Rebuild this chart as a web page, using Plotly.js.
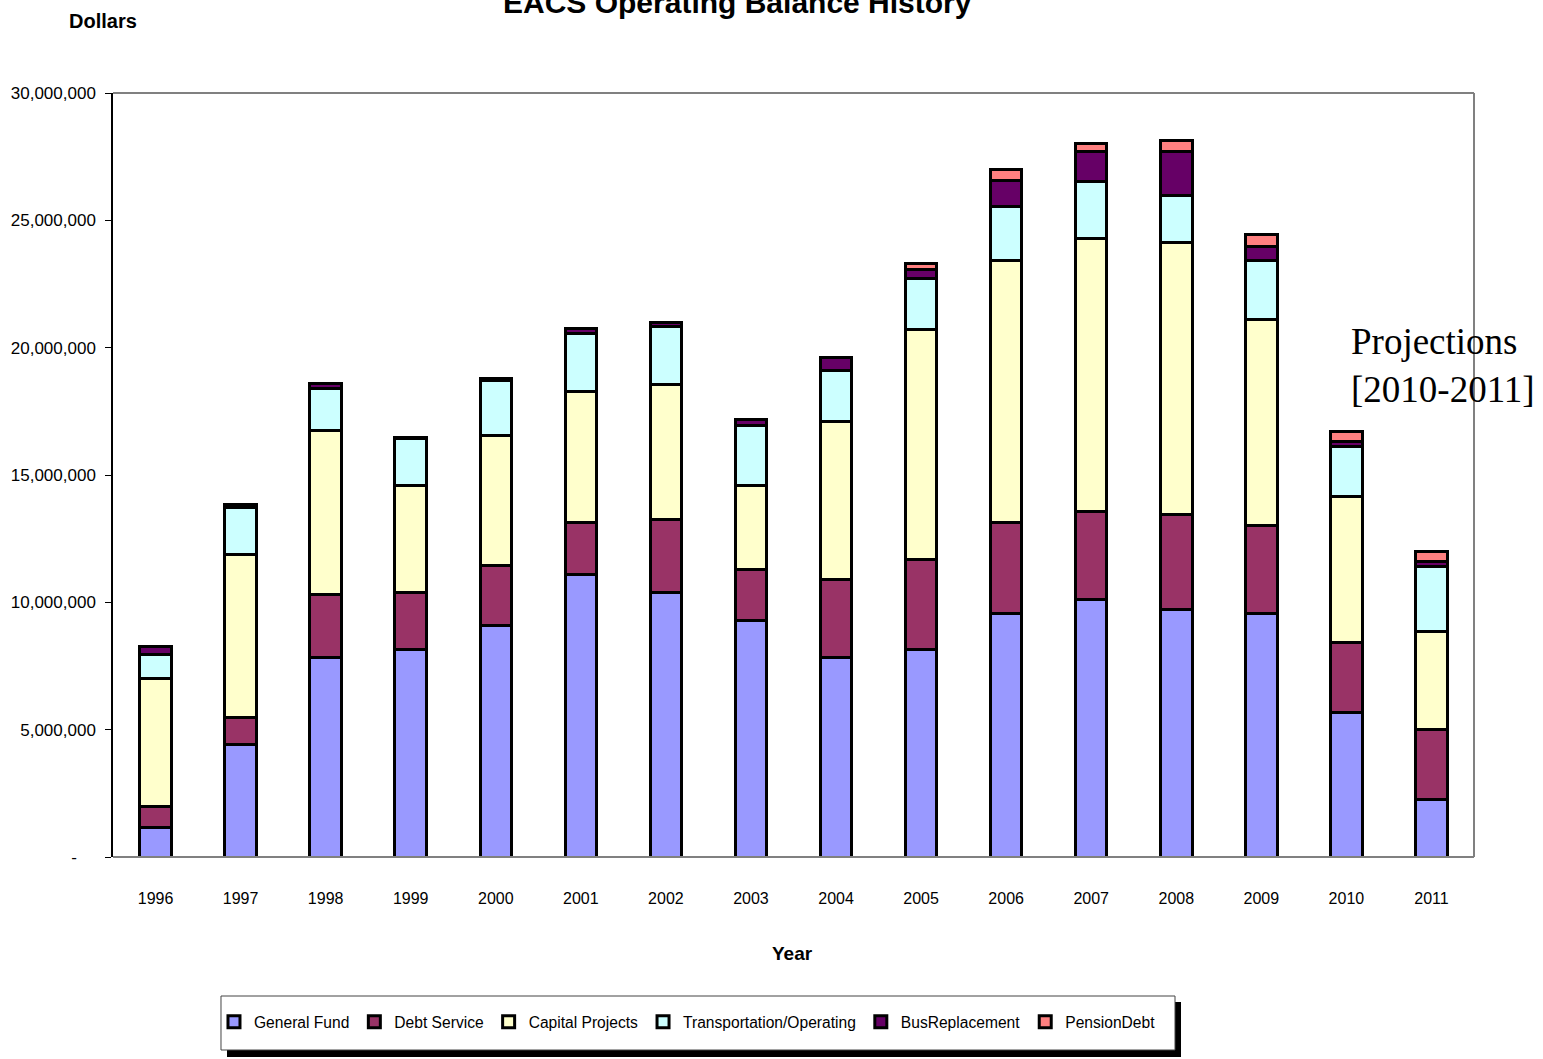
<!DOCTYPE html>
<html>
<head>
<meta charset="utf-8">
<script src="https://cdn.plot.ly/plotly-3.0.1.min.js"></script>
<style>html,body{margin:0;padding:0;background:#fff;}#chart{width:1543px;height:1059px;}</style>
</head>
<body>
<div id="chart"></div>
<script>
const years = ['1996','1997','1998','1999','2000','2001','2002','2003','2004','2005','2006','2007','2008','2009','2010','2011'];
const generalFund = [1140000, 4400000, 7850000, 8130000, 9110000, 11110000, 10400000, 9270000, 7850000, 8130000, 9560000, 10110000, 9700000, 9580000, 5680000, 2240000];
const debtService = [860000, 1060000, 2440000, 2270000, 2320000, 2040000, 2870000, 2000000, 3030000, 3570000, 3560000, 3440000, 3730000, 3450000, 2730000, 2750000];
const capitalProjects = [4990000, 6400000, 6440000, 4170000, 5140000, 5110000, 5300000, 3300000, 6240000, 9030000, 10320000, 10740000, 10700000, 8090000, 5740000, 3850000];
const transportation = [980000, 1880000, 1680000, 1880000, 2160000, 2310000, 2280000, 2390000, 2000000, 1990000, 2120000, 2250000, 1860000, 2320000, 1960000, 2550000];
const busReplacement = [310000, 120000, 200000, 40000, 40000, 200000, 150000, 200000, 510000, 330000, 990000, 1150000, 1700000, 550000, 190000, 200000];
const pensionDebt = [0, 0, 0, 0, 0, 0, 0, 0, 0, 260000, 450000, 330000, 430000, 470000, 390000, 400000];

const yTickVals = [0, 5000000, 10000000, 15000000, 20000000, 25000000, 30000000];
const yTickText = ['-\u00a0\u00a0\u00a0\u00a0', '5,000,000', '10,000,000', '15,000,000', '20,000,000', '25,000,000', '30,000,000'];

const sans = 'Liberation Sans, Arial, sans-serif';

const series = [
  {name: 'General Fund', y: generalFund, color: '#9999FF'},
  {name: 'Debt Service', y: debtService, color: '#993366'},
  {name: 'Capital Projects', y: capitalProjects, color: '#FFFFCC'},
  {name: 'Transportation/Operating', y: transportation, color: '#CCFFFF'},
  {name: 'BusReplacement', y: busReplacement, color: '#660066'},
  {name: 'PensionDebt', y: pensionDebt, color: '#FF8080'}
];

const traces = series.map(s => ({
  type: 'bar',
  name: s.name,
  x: years,
  y: s.y,
  width: 0.37,
  marker: {color: s.color, line: {color: '#000', width: 3}},
  hoverinfo: 'x+y+name'
}));

const layout = {
  width: 1543,
  height: 1059,
  margin: {l: 113, r: 69, t: 93, b: 202},
  paper_bgcolor: '#fff',
  plot_bgcolor: '#fff',
  barmode: 'stack',
  showlegend: true,
  legend: {
    orientation: 'h',
    x: 0.0742, y: -0.216, xanchor: 'left', yanchor: 'middle',
    bgcolor: 'rgba(0,0,0,0)', borderwidth: 0,
    font: {family: sans, size: 15.6, color: '#000'},
    traceorder: 'normal'
  },
  xaxis: {
    type: 'category',
    showline: false,
    ticks: '',
    showgrid: false,
    zeroline: false,
    ticklabelstandoff: 30,
    tickfont: {family: sans, size: 16, color: '#000'}
  },
  yaxis: {
    range: [0, 30000000],
    tickvals: yTickVals,
    ticktext: yTickText,
    showline: true,
    linecolor: '#000',
    linewidth: 1.5,
    ticks: 'outside',
    ticklen: 6,
    tickcolor: '#000',
    showgrid: false,
    zeroline: false,
    ticklabelstandoff: 6,
    tickfont: {family: sans, size: 17, color: '#000'}
  },
  shapes: [
    {type: 'rect', xref: 'paper', yref: 'paper', x0: 0.08376, x1: 0.78472, y0: -0.18979, y1: -0.26178,
     fillcolor: '#000', line: {width: 0}, layer: 'below'},
    {type: 'rect', xref: 'paper', yref: 'paper', x0: 0.07935, x1: 0.78031, y0: -0.18194, y1: -0.25262,
     fillcolor: '#fff', line: {color: '#444', width: 1}, layer: 'below'},
    {type: 'line', xref: 'paper', yref: 'paper', x0: 0, x1: 1, y0: 1, y1: 1, line: {color: '#808080', width: 2}},
    {type: 'line', xref: 'paper', yref: 'paper', x0: 1, x1: 1, y0: 0, y1: 1, line: {color: '#808080', width: 2}},
    {type: 'line', xref: 'paper', yref: 'paper', x0: 0, x1: 1, y0: 0, y1: 0, line: {color: '#808080', width: 2}}
  ],
  annotations: [
    {text: '<b>EACS Operating Balance History</b>', xref: 'paper', yref: 'paper', x: 0.459, y: 1.118,
     xanchor: 'center', yanchor: 'middle', showarrow: false,
     font: {family: sans, size: 30, color: '#000'}},
    {text: '<b>Dollars</b>', xref: 'paper', yref: 'paper', x: -0.0338, y: 1.0942,
     xanchor: 'left', yanchor: 'middle', showarrow: false,
     font: {family: sans, size: 20, color: '#000'}},
    {text: '<b>Year</b>', xref: 'paper', yref: 'paper', x: 0.499, y: -0.126,
     xanchor: 'center', yanchor: 'middle', showarrow: false,
     font: {family: sans, size: 19, color: '#000'}},
    {text: 'Projections<br>[2010-2011]', xref: 'paper', yref: 'paper', x: 0.908, y: 0.643,
     xanchor: 'left', yanchor: 'middle', align: 'left', showarrow: false,
     font: {family: 'Liberation Serif, Times New Roman, serif', size: 37, color: '#000'}}
  ]
};

Plotly.newPlot('chart', traces, layout, {displayModeBar: false, responsive: false});
</script>
</body>
</html>
